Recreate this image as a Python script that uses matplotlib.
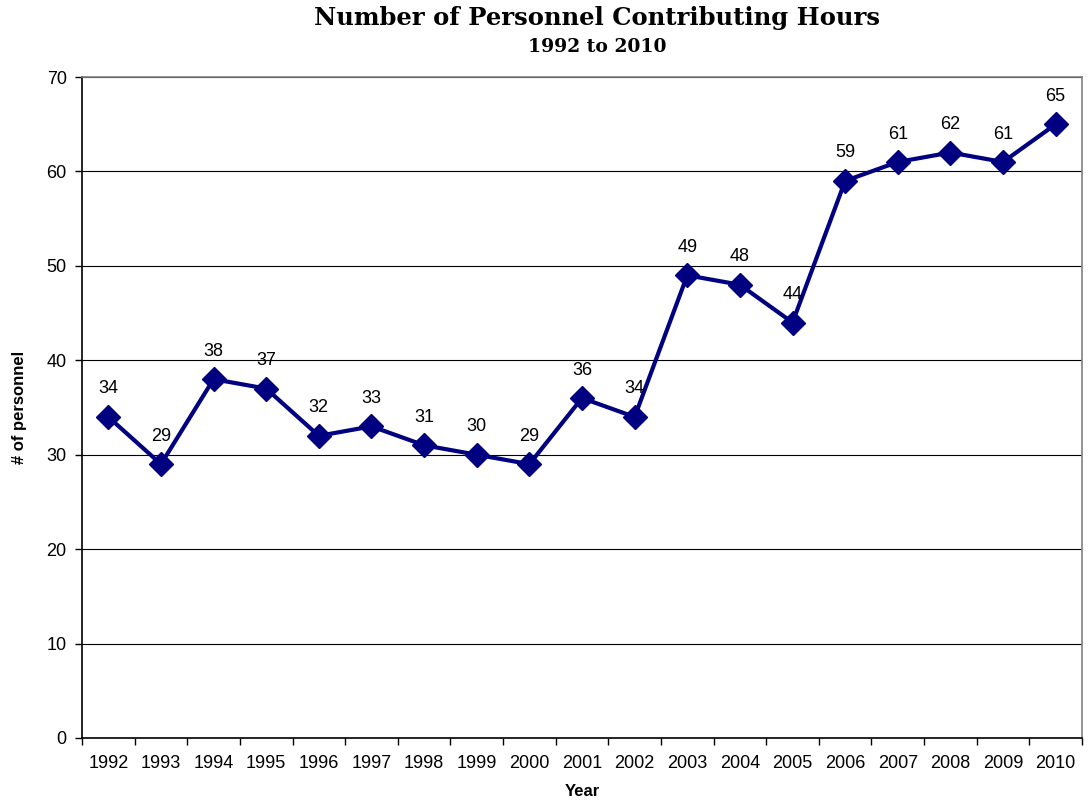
import matplotlib
matplotlib.use("Agg")
import matplotlib.pyplot as plt

years = ["1992", "1993", "1994", "1995", "1996", "1997", "1998", "1999", "2000",
         "2001", "2002", "2003", "2004", "2005", "2006", "2007", "2008", "2009", "2010"]
personnel = [34, 29, 38, 37, 32, 33, 31, 30, 29, 36, 34, 49, 48, 44, 59, 61, 62, 61, 65]
yticks = [0, 10, 20, 30, 40, 50, 60, 70]

plt.rcParams['font.family'] = ['Liberation Sans', 'DejaVu Sans']

fig = plt.figure(figsize=(10.89, 8.09), dpi=100)
ax = fig.add_axes([82/1089, 71/809, 1000/1089, 661/809])

x = list(range(len(years)))
ax.plot(x, personnel, color='#000080', linewidth=3.0, marker='D', markersize=12,
        markerfacecolor='#000080', markeredgecolor='#000080', zorder=3)
for xi, v in zip(x, personnel):
    ax.annotate(str(v), (xi, v), xytext=(0, 14), textcoords='offset points',
                ha='center', va='bottom', fontsize=13, color='black')

ax.set_xlim(-0.5, len(years) - 0.5)
ax.set_ylim(0, 70)
ax.set_yticks(yticks)
ax.set_yticklabels([str(t) for t in yticks], fontsize=13)
ax.set_xticks(x)
ax.set_xticklabels(years, fontsize=13)
ax.set_xticks([i - 0.5 for i in range(len(years) + 1)], minor=True)
ax.tick_params(axis='x', which='major', length=0, pad=12)
ax.tick_params(axis='x', which='minor', length=5, width=1, color='black')
ax.tick_params(axis='y', length=5, width=1, direction='out', pad=6)
ax.yaxis.grid(True, color='black', linewidth=0.8)
ax.set_axisbelow(True)

for s in ['left', 'bottom']:
    ax.spines[s].set_color('black')
    ax.spines[s].set_linewidth(1.2)
for s in ['right', 'top']:
    ax.spines[s].set_color('#808080')
    ax.spines[s].set_linewidth(1.2)

ax.set_xlabel('Year', fontsize=12, fontweight='bold', labelpad=9)
ax.set_ylabel('# of personnel', fontsize=12, fontweight='bold', labelpad=14)

fig.text(597/1089, 1 - 18/809, 'Number of Personnel Contributing Hours',
         ha='center', va='center', fontsize=17.5, fontweight='bold', family='DejaVu Serif')
fig.text(597/1089, 1 - 47/809, '1992 to 2010',
         ha='center', va='center', fontsize=13.5, fontweight='bold', family='DejaVu Serif')

fig.savefig('out.png', dpi=100)
